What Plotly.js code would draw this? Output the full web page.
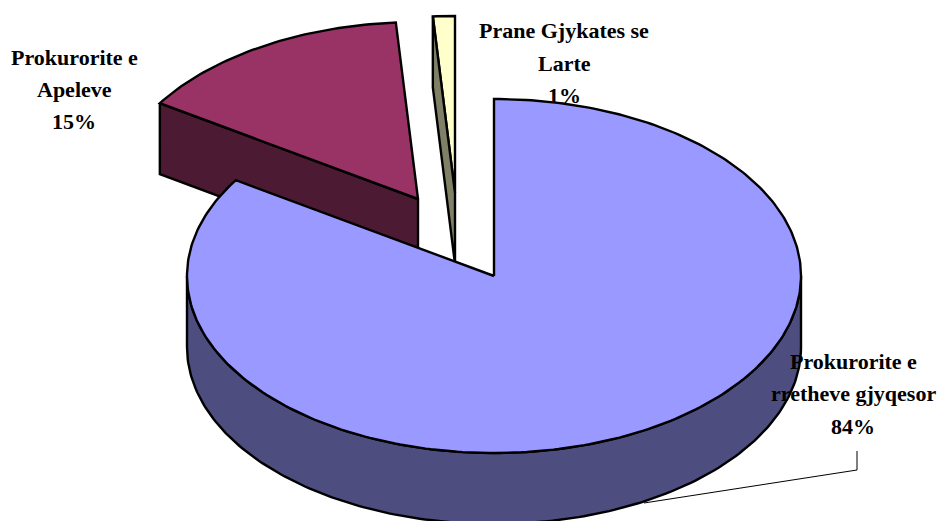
<!DOCTYPE html>
<html>
<head>
<meta charset="utf-8">
<script src="https://cdn.plot.ly/plotly-3.0.1.min.js"></script>
<style>html,body{margin:0;padding:0;background:#fff;overflow:hidden}#c{width:939px;height:521px}</style>
</head>
<body>
<div id="c"></div>
<script>
// Chart data
var categories = ["Prokurorite e rretheve gjyqesor", "Prokurorite e Apeleve", "Prane Gjykates se Larte"];
var shares = [84.1, 14.75, 1.15];
var shareLabels = ["84%", "15%", "1%"];
var labelLines = [
  ["Prokurorite e", "rretheve gjyqesor", "84%"],
  ["Prokurorite e", "Apeleve", "15%"],
  ["Prane Gjykates se", "Larte", "1%"]
];
var topColors = ["#9999FF", "#993366", "#FFFFCC"];
var sideColors = ["#4D4D80", "#4D1A33", "#808066"];

// Projection of the tilted pie, in page-sized axis units
var rx = 307, ry = 177, depth = 71;
var apexes = [[494, 276], [418, 199], [455, 193]];
var labelCentres = [[853, [361, 393, 426]], [74, [57, 89, 121]], [564, [30, 63, 95]]];
var leaderX = [857, 857, 644], leaderY = [451, 470, 503];

function rim(c, deg, dy) {
  var a = deg * Math.PI / 180;
  return [c[0] + rx * Math.sin(a), c[1] - ry * Math.cos(a) + (dy || 0)];
}
function arc(c, from, to, dy) {
  var pts = [], n = Math.max(2, Math.ceil(Math.abs(to - from)));
  for (var i = 0; i <= n; i++) pts.push(rim(c, from + (to - from) * i / n, dy));
  return pts;
}
function poly(pts, color) {
  return {
    type: "scatter", mode: "lines", hoverinfo: "skip", showlegend: false,
    x: pts.map(function (p) { return p[0]; }),
    y: pts.map(function (p) { return p[1]; }),
    fill: "toself", fillcolor: color,
    line: { color: "#000000", width: 2.4, shape: "linear" }
  };
}

var total = shares.reduce(function (a, b) { return a + b; }, 0);
var starts = [], ends = [], cum = 0;
shares.forEach(function (s) {
  starts.push(cum / total * 360);
  cum += s;
  ends.push(cum / total * 360);
});

var traces = [];
// Back slices first, the main slice last so it covers their walls
[2, 1].forEach(function (i) {
  var c = apexes[i], p = rim(c, starts[i]);
  var wall = [p, [p[0], p[1] + depth], [c[0], c[1] + depth], c, p];
  if (i === 2) {
    traces.push(poly([c].concat(arc(c, starts[i], ends[i])).concat([c]), topColors[i]));
    traces.push(poly(wall, sideColors[i]));
  } else {
    traces.push(poly(wall, sideColors[i]));
    traces.push(poly([c].concat(arc(c, starts[i], ends[i])).concat([c]), topColors[i]));
  }
});
var m = apexes[0];
traces.push(poly(arc(m, 90, 270).concat(arc(m, 270, 90, depth)).concat([rim(m, 90)]), sideColors[0]));
traces.push(poly([m].concat(arc(m, starts[0], ends[0])).concat([m]), topColors[0]));
traces.push({
  type: "scatter", mode: "lines", hoverinfo: "skip", showlegend: false,
  x: leaderX, y: leaderY, line: { color: "#000000", width: 1 }
});

var annotations = [];
labelLines.forEach(function (lines, i) {
  lines.forEach(function (t, j) {
    annotations.push({
      x: labelCentres[i][0], y: labelCentres[i][1][j], xref: "x", yref: "y",
      text: "<b>" + t + "</b>", showarrow: false, xanchor: "center", yanchor: "middle",
      font: { family: "Liberation Serif, serif", size: 22, color: "#000000" }
    });
  });
});

var axis = { visible: false, showgrid: false, zeroline: false, fixedrange: true };
Plotly.newPlot("c", traces, {
  width: 939, height: 521,
  margin: { l: 0, r: 0, t: 0, b: 0, pad: 0 },
  paper_bgcolor: "#ffffff", plot_bgcolor: "#ffffff",
  hovermode: false, showlegend: false,
  xaxis: Object.assign({ range: [0, 939] }, axis),
  yaxis: Object.assign({ range: [521, 0] }, axis),
  annotations: annotations
}, { displayModeBar: false, staticPlot: true });
</script>
</body>
</html>
